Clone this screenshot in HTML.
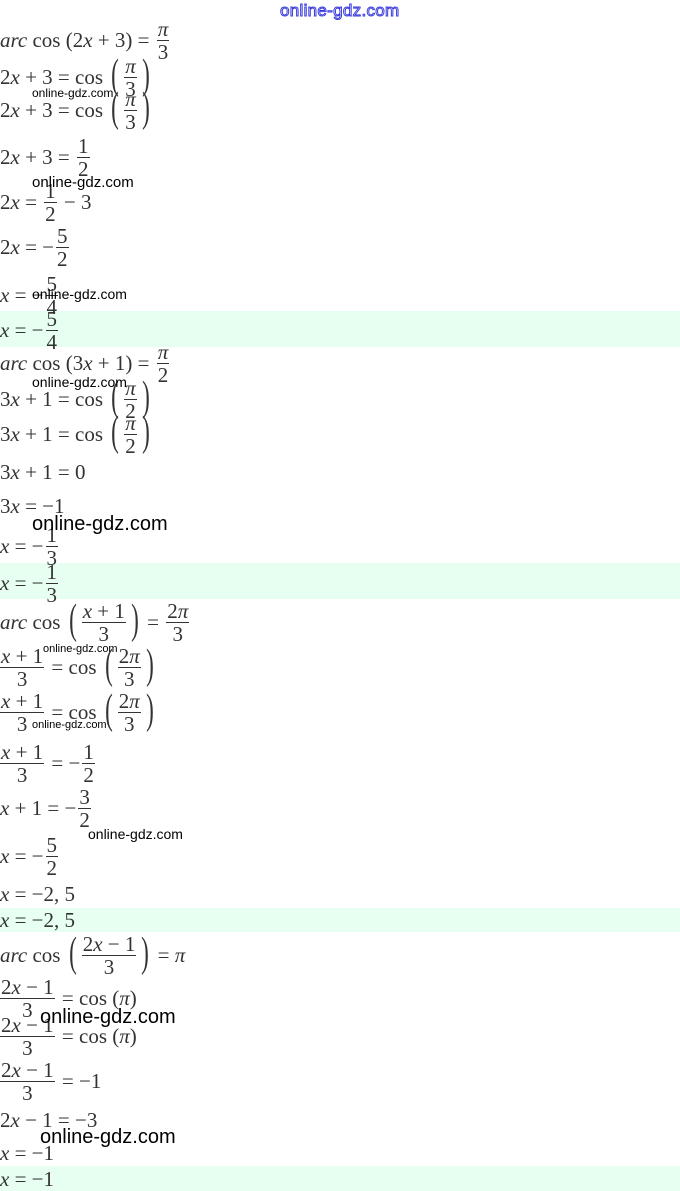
<!DOCTYPE html>
<html><head><meta charset="utf-8">
<style>
html,body{margin:0;padding:0;background:#fff;width:680px;height:1191px;overflow:hidden;position:relative}
.band{position:absolute;left:0;width:680px;background:#e6fff0}
.r{position:absolute;left:0;font:21px/24px "Liberation Serif",serif;color:#333;white-space:nowrap;height:24px}
.r i{font-style:italic}
.f{display:inline-block;vertical-align:middle;text-align:center;margin:-12px 2px;position:relative;top:-2px}
.f>span{display:block;line-height:22px;padding:0 1px}
.f>span:first-child{border-bottom:1px solid #333}
.p{font-size:42px;font-weight:100;vertical-align:middle;display:inline-block;transform:scaleX(.55);position:relative;top:-4px;line-height:24px;margin:-10px 0}
.w{position:absolute;font-family:"Liberation Sans",sans-serif;color:#000;white-space:nowrap}
.hd{position:absolute;left:280px;top:1px;font:17px "Liberation Sans",sans-serif;color:#fff;-webkit-text-stroke:1px #3a3adc;letter-spacing:0.3px}
</style></head><body>
<div class="band" style="top:311px;height:36px"></div>
<div class="band" style="top:563px;height:36px"></div>
<div class="band" style="top:908px;height:24px"></div>
<div class="band" style="top:1166px;height:25px"></div>
<div class="hd">online-gdz.com</div>

<div class="r" style="top:28px"><i>arc</i> cos (2<i>x</i> + 3) = <span class="f"><span><i>π</i></span><span>3</span></span></div>
<div class="r" style="top:65px">2<i>x</i> + 3 = cos <span class="p">(</span><span class="f"><span><i>π</i></span><span>3</span></span><span class="p">)</span></div>
<div class="r" style="top:98px">2<i>x</i> + 3 = cos <span class="p">(</span><span class="f"><span><i>π</i></span><span>3</span></span><span class="p">)</span></div>
<div class="r" style="top:145px">2<i>x</i> + 3 = <span class="f"><span>1</span><span>2</span></span></div>
<div class="r" style="top:190px">2<i>x</i> = <span class="f"><span>1</span><span>2</span></span> − 3</div>
<div class="r" style="top:235px">2<i>x</i> = −<span class="f"><span>5</span><span>2</span></span></div>
<div class="r" style="top:283px"><i>x</i> = −<span class="f"><span>5</span><span>4</span></span></div>
<div class="r" style="top:318px"><i>x</i> = −<span class="f"><span>5</span><span>4</span></span></div>
<div class="r" style="top:351px"><i>arc</i> cos (3<i>x</i> + 1) = <span class="f"><span><i>π</i></span><span>2</span></span></div>
<div class="r" style="top:387px">3<i>x</i> + 1 = cos <span class="p">(</span><span class="f"><span><i>π</i></span><span>2</span></span><span class="p">)</span></div>
<div class="r" style="top:422px">3<i>x</i> + 1 = cos <span class="p">(</span><span class="f"><span><i>π</i></span><span>2</span></span><span class="p">)</span></div>
<div class="r" style="top:460px">3<i>x</i> + 1 = 0</div>
<div class="r" style="top:494px">3<i>x</i> = −1</div>
<div class="r" style="top:534px"><i>x</i> = −<span class="f"><span>1</span><span>3</span></span></div>
<div class="r" style="top:571px"><i>x</i> = −<span class="f"><span>1</span><span>3</span></span></div>
<div class="r" style="top:610px"><i>arc</i> cos <span class="p">(</span><span class="f"><span><i>x</i> + 1</span><span>3</span></span><span class="p">)</span> = <span class="f"><span>2<i>π</i></span><span>3</span></span></div>
<div class="r" style="top:655px"><span class="f" style="margin-left:0"><span><i>x</i> + 1</span><span>3</span></span> = cos <span class="p">(</span><span class="f"><span>2<i>π</i></span><span>3</span></span><span class="p">)</span></div>
<div class="r" style="top:700px"><span class="f" style="margin-left:0"><span><i>x</i> + 1</span><span>3</span></span> = cos <span class="p">(</span><span class="f"><span>2<i>π</i></span><span>3</span></span><span class="p">)</span></div>
<div class="r" style="top:751px"><span class="f" style="margin-left:0"><span><i>x</i> + 1</span><span>3</span></span> = −<span class="f"><span>1</span><span>2</span></span></div>
<div class="r" style="top:796px"><i>x</i> + 1 = −<span class="f"><span>3</span><span>2</span></span></div>
<div class="r" style="top:844px"><i>x</i> = −<span class="f"><span>5</span><span>2</span></span></div>
<div class="r" style="top:882px"><i>x</i> = −2, 5</div>
<div class="r" style="top:908px"><i>x</i> = −2, 5</div>
<div class="r" style="top:943px"><i>arc</i> cos <span class="p">(</span><span class="f"><span>2<i>x</i> − 1</span><span>3</span></span><span class="p">)</span> = <i>π</i></div>
<div class="r" style="top:986px"><span class="f" style="margin-left:0"><span>2<i>x</i> − 1</span><span>3</span></span> = cos (<i>π</i>)</div>
<div class="r" style="top:1024px"><span class="f" style="margin-left:0"><span>2<i>x</i> − 1</span><span>3</span></span> = cos (<i>π</i>)</div>
<div class="r" style="top:1069px"><span class="f" style="margin-left:0"><span>2<i>x</i> − 1</span><span>3</span></span> = −1</div>
<div class="r" style="top:1108px">2<i>x</i> − 1 = −3</div>
<div class="r" style="top:1141px"><i>x</i> = −1</div>
<div class="r" style="top:1167px"><i>x</i> = −1</div>

<div class="w" style="left:32px;top:86px;font-size:12px">online-gdz.com</div>
<div class="w" style="left:32px;top:174px;font-size:15px">online-gdz.com</div>
<div class="w" style="left:32px;top:286px;font-size:14px">online-gdz.com</div>
<div class="w" style="left:32px;top:374px;font-size:14px">online-gdz.com</div>
<div class="w" style="left:32px;top:513px;font-size:20px">online-gdz.com</div>
<div class="w" style="left:43px;top:643px;font-size:11px">online-gdz.com</div>
<div class="w" style="left:32px;top:719px;font-size:11px">online-gdz.com</div>
<div class="w" style="left:88px;top:826px;font-size:14px">online-gdz.com</div>
<div class="w" style="left:40px;top:1006px;font-size:20px">online-gdz.com</div>
<div class="w" style="left:40px;top:1126px;font-size:20px">online-gdz.com</div>
</body></html>
